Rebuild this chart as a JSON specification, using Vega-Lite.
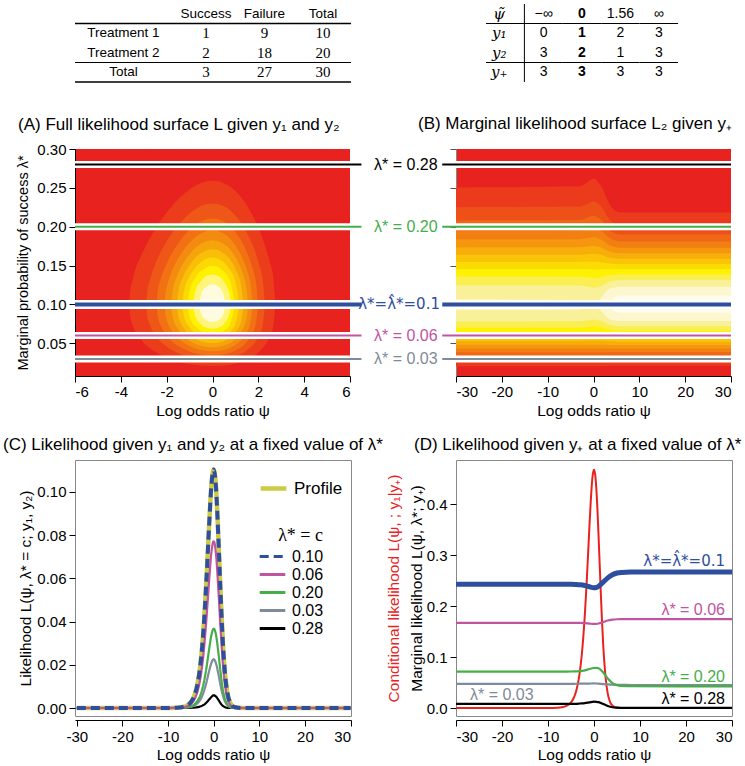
{
"$schema":"https://vega.github.io/schema/vega-lite/v6.json",
"padding":{"left":2,"top":3,"right":2,"bottom":2},
"bounds":"flush",
"columns":2,
"spacing":{"row":84,"column":105},
"config":{
 "font":"Liberation Sans",
 "view":{"stroke":null},
 "axis":{"labelFontSize":15,"titleFontSize":15.5,"titleFontWeight":"normal","labelColor":"#000","titleColor":"#000","tickColor":"#000","domainColor":"#000","grid":false,"tickSize":6,"labelPadding":3},
 "title":{"fontSize":17,"fontWeight":"normal","color":"#000"},
 "legend":{"labelFontSize":16,"labelColor":"#000"}
},
"resolve":{"scale":{"color":"independent","fill":"independent","stroke":"independent","strokeDash":"independent"},"legend":{"color":"independent","fill":"independent","stroke":"independent","strokeDash":"independent"}},
"datasets":{
"t1":[
{"row":"h","col":"lab","t":""},{"row":"h","col":"Success","t":"Success"},{"row":"h","col":"Failure","t":"Failure"},{"row":"h","col":"Total","t":"Total"},
{"row":"r1","col":"lab","t":"Treatment 1"},{"row":"r1","col":"Success","t":"1"},{"row":"r1","col":"Failure","t":"9"},{"row":"r1","col":"Total","t":"10"},
{"row":"r2","col":"lab","t":"Treatment 2"},{"row":"r2","col":"Success","t":"2"},{"row":"r2","col":"Failure","t":"18"},{"row":"r2","col":"Total","t":"20"},
{"row":"tot","col":"lab","t":"Total"},{"row":"tot","col":"Success","t":"3"},{"row":"tot","col":"Failure","t":"27"},{"row":"tot","col":"Total","t":"30"}
],
"t2":[
{"row":"h","col":"h","t":"ψ̃"},{"row":"h","col":"a","t":"−∞"},{"row":"h","col":"b","t":"0"},{"row":"h","col":"c","t":"1.56"},{"row":"h","col":"d","t":"∞"},
{"row":"r1","col":"h","t":"y₁"},{"row":"r1","col":"a","t":"0"},{"row":"r1","col":"b","t":"1"},{"row":"r1","col":"c","t":"2"},{"row":"r1","col":"d","t":"3"},
{"row":"r2","col":"h","t":"y₂"},{"row":"r2","col":"a","t":"3"},{"row":"r2","col":"b","t":"2"},{"row":"r2","col":"c","t":"1"},{"row":"r2","col":"d","t":"3"},
{"row":"r3","col":"h","t":"y₊"},{"row":"r3","col":"a","t":"3"},{"row":"r3","col":"b","t":"3"},{"row":"r3","col":"c","t":"3"},{"row":"r3","col":"d","t":"3"}
],
"lines":[
{"lam":0.28,"name":"0.28","label":"λ* = 0.28"},
{"lam":0.2,"name":"0.20","label":"λ* = 0.20"},
{"lam":0.06,"name":"0.06","label":"λ* = 0.06"},
{"lam":0.03,"name":"0.03","label":"λ* = 0.03"},
{"lam":0.1,"name":"0.10","label":"λ*=λ̂*=0.1"}
],
"aC":[
{"k":1,"psi":-3.64,"lo":0.1,"hi":0.1},{"k":1,"psi":-3.6,"lo":0.087,"hi":0.115},{"k":1,"psi":-3.5,"lo":0.075,"hi":0.1298},{"k":1,"psi":-3,"lo":0.0509,"hi":0.1698},{"k":1,"psi":-2.5,"lo":0.0393,"hi":0.1968},{"k":1,"psi":-2,"lo":0.0318,"hi":0.2182},{"k":1,"psi":-1.5,"lo":0.0268,"hi":0.2353},{"k":1,"psi":-1,"lo":0.0235,"hi":0.248},{"k":1,"psi":-0.5,"lo":0.0216,"hi":0.2564},{"k":1,"psi":0,"lo":0.021,"hi":0.2592},{"k":1,"psi":0.5,"lo":0.0216,"hi":0.2561},{"k":1,"psi":1,"lo":0.0242,"hi":0.2459},{"k":1,"psi":1.5,"lo":0.0291,"hi":0.2273},{"k":1,"psi":2,"lo":0.0385,"hi":0.1989},{"k":1,"psi":2.5,"lo":0.0591,"hi":0.1542},{"k":1,"psi":2.65,"lo":0.0719,"hi":0.1347},{"k":1,"psi":2.74,"lo":0.1,"hi":0.1},
{"k":2,"psi":-2.895,"lo":0.1,"hi":0.1},{"k":2,"psi":-2.85,"lo":0.0851,"hi":0.1162},{"k":2,"psi":-2.75,"lo":0.0748,"hi":0.1296},{"k":2,"psi":-2.5,"lo":0.0606,"hi":0.1517},{"k":2,"psi":-2,"lo":0.0458,"hi":0.1809},{"k":2,"psi":-1.5,"lo":0.0374,"hi":0.2018},{"k":2,"psi":-1,"lo":0.0322,"hi":0.217},{"k":2,"psi":-0.5,"lo":0.0293,"hi":0.2266},{"k":2,"psi":0,"lo":0.0283,"hi":0.2298},{"k":2,"psi":0.5,"lo":0.0294,"hi":0.2263},{"k":2,"psi":1,"lo":0.0331,"hi":0.2144},{"k":2,"psi":1.5,"lo":0.041,"hi":0.1924},{"k":2,"psi":2,"lo":0.0588,"hi":0.1548},{"k":2,"psi":2.2,"lo":0.0748,"hi":0.1296},{"k":2,"psi":2.289,"lo":0.1,"hi":0.1},
{"k":3,"psi":-2.437,"lo":0.1,"hi":0.1},{"k":3,"psi":-2.4,"lo":0.0867,"hi":0.1145},{"k":3,"psi":-2.25,"lo":0.0725,"hi":0.1337},{"k":3,"psi":-2,"lo":0.0599,"hi":0.1528},{"k":3,"psi":-1.5,"lo":0.0468,"hi":0.1786},{"k":3,"psi":-1,"lo":0.0395,"hi":0.1962},{"k":3,"psi":-0.5,"lo":0.0356,"hi":0.2069},{"k":3,"psi":0,"lo":0.0343,"hi":0.2106},{"k":3,"psi":0.5,"lo":0.0357,"hi":0.2066},{"k":3,"psi":1,"lo":0.0407,"hi":0.1931},{"k":3,"psi":1.5,"lo":0.0522,"hi":0.1672},{"k":3,"psi":1.75,"lo":0.0638,"hi":0.1463},{"k":3,"psi":1.9,"lo":0.076,"hi":0.1279},{"k":3,"psi":1.986,"lo":0.1,"hi":0.1},
{"k":4,"psi":-2.094,"lo":0.1,"hi":0.1},{"k":4,"psi":-2.05,"lo":0.0865,"hi":0.115},{"k":4,"psi":-2,"lo":0.0806,"hi":0.1217},{"k":4,"psi":-1.75,"lo":0.065,"hi":0.1443},{"k":4,"psi":-1.5,"lo":0.0565,"hi":0.159},{"k":4,"psi":-1,"lo":0.0464,"hi":0.1794},{"k":4,"psi":-0.5,"lo":0.0414,"hi":0.1914},{"k":4,"psi":0,"lo":0.0398,"hi":0.1955},{"k":4,"psi":0.5,"lo":0.0416,"hi":0.191},{"k":4,"psi":1,"lo":0.048,"hi":0.176},{"k":4,"psi":1.25,"lo":0.0543,"hi":0.1632},{"k":4,"psi":1.5,"lo":0.0648,"hi":0.1446},{"k":4,"psi":1.65,"lo":0.076,"hi":0.1279},{"k":4,"psi":1.748,"lo":0.1,"hi":0.1},
{"k":5,"psi":-1.807,"lo":0.1,"hi":0.1},{"k":5,"psi":-1.75,"lo":0.0854,"hi":0.116},{"k":5,"psi":-1.5,"lo":0.068,"hi":0.14},{"k":5,"psi":-1.25,"lo":0.0591,"hi":0.1542},{"k":5,"psi":-1,"lo":0.0535,"hi":0.1647},{"k":5,"psi":-0.5,"lo":0.047,"hi":0.1781},{"k":5,"psi":0,"lo":0.045,"hi":0.1827},{"k":5,"psi":0.5,"lo":0.0472,"hi":0.1777},{"k":5,"psi":1,"lo":0.0556,"hi":0.1607},{"k":5,"psi":1.25,"lo":0.0645,"hi":0.1453},{"k":5,"psi":1.5,"lo":0.0849,"hi":0.1167},{"k":5,"psi":1.545,"lo":0.1,"hi":0.1},
{"k":6,"psi":-1.553,"lo":0.1,"hi":0.1},{"k":6,"psi":-1.5,"lo":0.0865,"hi":0.1151},{"k":6,"psi":-1.25,"lo":0.0693,"hi":0.1377},{"k":6,"psi":-1,"lo":0.0611,"hi":0.1507},{"k":6,"psi":-0.5,"lo":0.0528,"hi":0.1661},{"k":6,"psi":0,"lo":0.0503,"hi":0.1711},{"k":6,"psi":0.5,"lo":0.0531,"hi":0.1656},{"k":6,"psi":1,"lo":0.0642,"hi":0.1458},{"k":6,"psi":1.25,"lo":0.0784,"hi":0.1245},{"k":6,"psi":1.356,"lo":0.1,"hi":0.1},
{"k":7,"psi":-1.319,"lo":0.1,"hi":0.1},{"k":7,"psi":-1.25,"lo":0.085,"hi":0.1164},{"k":7,"psi":-1,"lo":0.0704,"hi":0.136},{"k":7,"psi":-0.75,"lo":0.063,"hi":0.1474},{"k":7,"psi":-0.5,"lo":0.0589,"hi":0.1546},{"k":7,"psi":0,"lo":0.0558,"hi":0.1603},{"k":7,"psi":0.5,"lo":0.0592,"hi":0.1541},{"k":7,"psi":0.75,"lo":0.0645,"hi":0.1452},{"k":7,"psi":1,"lo":0.0748,"hi":0.1296},{"k":7,"psi":1.171,"lo":0.1,"hi":0.1},
{"k":8,"psi":-1.09,"lo":0.1,"hi":0.1},{"k":8,"psi":-1,"lo":0.0841,"hi":0.1176},{"k":8,"psi":-0.75,"lo":0.0719,"hi":0.1348},{"k":8,"psi":-0.5,"lo":0.0658,"hi":0.143},{"k":8,"psi":-0.25,"lo":0.0628,"hi":0.148},{"k":8,"psi":0,"lo":0.0618,"hi":0.1497},{"k":8,"psi":0.25,"lo":0.0628,"hi":0.1479},{"k":8,"psi":0.5,"lo":0.0662,"hi":0.1424},{"k":8,"psi":0.75,"lo":0.0738,"hi":0.1312},{"k":8,"psi":0.987,"lo":0.1,"hi":0.1},
{"k":9,"psi":-0.852,"lo":0.1,"hi":0.1},{"k":9,"psi":-0.75,"lo":0.0846,"hi":0.1171},{"k":9,"psi":-0.5,"lo":0.0744,"hi":0.1301},{"k":9,"psi":-0.25,"lo":0.07,"hi":0.1368},{"k":9,"psi":0,"lo":0.0687,"hi":0.1387},{"k":9,"psi":0.25,"lo":0.0701,"hi":0.1367},{"k":9,"psi":0.5,"lo":0.0749,"hi":0.1295},{"k":9,"psi":0.75,"lo":0.0893,"hi":0.1115},{"k":9,"psi":0.789,"lo":0.1,"hi":0.1},
{"k":10,"psi":-0.579,"lo":0.1,"hi":0.1},{"k":10,"psi":-0.5,"lo":0.0881,"hi":0.113},{"k":10,"psi":-0.25,"lo":0.0795,"hi":0.1231},{"k":10,"psi":0,"lo":0.0774,"hi":0.1259},{"k":10,"psi":0.25,"lo":0.0796,"hi":0.123},{"k":10,"psi":0.5,"lo":0.0895,"hi":0.1113},{"k":10,"psi":0.549,"lo":0.1,"hi":0.1}
],
"bC":[
{"m":1,"seg":"s1","psi":-30,"lo":0.0206,"hi":0.2506},{"m":1,"seg":"s1","psi":-3,"lo":0.0206,"hi":0.252},{"m":1,"seg":"s1","psi":-1.5,"lo":0.0205,"hi":0.2567},{"m":1,"seg":"s1","psi":0,"lo":0.0205,"hi":0.2621},{"m":1,"seg":"s1","psi":1,"lo":0.0206,"hi":0.2577},{"m":1,"seg":"s1","psi":2,"lo":0.0207,"hi":0.2489},{"m":1,"seg":"s1","psi":3,"lo":0.021,"hi":0.2349},{"m":1,"seg":"s1","psi":4,"lo":0.0212,"hi":0.2248},{"m":1,"seg":"s1","psi":6,"lo":0.0213,"hi":0.2182},{"m":1,"seg":"s1","psi":30,"lo":0.0213,"hi":0.2182},
{"m":2,"seg":"s2","psi":-30,"lo":0.0277,"hi":0.2252},{"m":2,"seg":"s2","psi":-3,"lo":0.0277,"hi":0.2261},{"m":2,"seg":"s2","psi":-1.5,"lo":0.0276,"hi":0.2293},{"m":2,"seg":"s2","psi":0,"lo":0.0275,"hi":0.2329},{"m":2,"seg":"s2","psi":1,"lo":0.0276,"hi":0.2298},{"m":2,"seg":"s2","psi":2,"lo":0.0278,"hi":0.2236},{"m":2,"seg":"s2","psi":3,"lo":0.028,"hi":0.2136},{"m":2,"seg":"s2","psi":4,"lo":0.0283,"hi":0.2065},{"m":2,"seg":"s2","psi":6,"lo":0.0284,"hi":0.2018},{"m":2,"seg":"s2","psi":30,"lo":0.0284,"hi":0.2018},
{"m":3,"seg":"s3","psi":-30,"lo":0.0334,"hi":0.2081},{"m":3,"seg":"s3","psi":-3,"lo":0.0334,"hi":0.2088},{"m":3,"seg":"s3","psi":-1.5,"lo":0.0333,"hi":0.2112},{"m":3,"seg":"s3","psi":0,"lo":0.0332,"hi":0.214},{"m":3,"seg":"s3","psi":1,"lo":0.0333,"hi":0.2116},{"m":3,"seg":"s3","psi":2,"lo":0.0334,"hi":0.2068},{"m":3,"seg":"s3","psi":3,"lo":0.0337,"hi":0.1991},{"m":3,"seg":"s3","psi":4,"lo":0.0339,"hi":0.1936},{"m":3,"seg":"s3","psi":6,"lo":0.034,"hi":0.19},{"m":3,"seg":"s3","psi":30,"lo":0.034,"hi":0.19},
{"m":4,"seg":"s4","psi":-30,"lo":0.0385,"hi":0.1949},{"m":4,"seg":"s4","psi":-3,"lo":0.0385,"hi":0.1954},{"m":4,"seg":"s4","psi":-1.5,"lo":0.0385,"hi":0.1971},{"m":4,"seg":"s4","psi":0,"lo":0.0384,"hi":0.199},{"m":4,"seg":"s4","psi":1,"lo":0.0385,"hi":0.1972},{"m":4,"seg":"s4","psi":2,"lo":0.0386,"hi":0.1936},{"m":4,"seg":"s4","psi":3,"lo":0.0387,"hi":0.1879},{"m":4,"seg":"s4","psi":4,"lo":0.0388,"hi":0.1838},{"m":4,"seg":"s4","psi":6,"lo":0.0389,"hi":0.1811},{"m":4,"seg":"s4","psi":30,"lo":0.0389,"hi":0.1811},
{"m":5,"seg":"s5","psi":-30,"lo":0.0433,"hi":0.1835},{"m":5,"seg":"s5","psi":-3,"lo":0.0433,"hi":0.1839},{"m":5,"seg":"s5","psi":-1.5,"lo":0.0434,"hi":0.1851},{"m":5,"seg":"s5","psi":0,"lo":0.0434,"hi":0.1866},{"m":5,"seg":"s5","psi":1,"lo":0.0434,"hi":0.1853},{"m":5,"seg":"s5","psi":2,"lo":0.0434,"hi":0.1826},{"m":5,"seg":"s5","psi":3,"lo":0.0435,"hi":0.1782},{"m":5,"seg":"s5","psi":4,"lo":0.0435,"hi":0.1751},{"m":5,"seg":"s5","psi":6,"lo":0.0435,"hi":0.1731},{"m":5,"seg":"s5","psi":30,"lo":0.0435,"hi":0.1731},
{"m":6,"seg":"s6","psi":-30,"lo":0.0481,"hi":0.1734},{"m":6,"seg":"s6","psi":-3,"lo":0.0481,"hi":0.1737},{"m":6,"seg":"s6","psi":-1.5,"lo":0.0482,"hi":0.1745},{"m":6,"seg":"s6","psi":0,"lo":0.0483,"hi":0.1755},{"m":6,"seg":"s6","psi":1,"lo":0.0483,"hi":0.1745},{"m":6,"seg":"s6","psi":2,"lo":0.0482,"hi":0.1726},{"m":6,"seg":"s6","psi":3,"lo":0.048,"hi":0.1695},{"m":6,"seg":"s6","psi":4,"lo":0.048,"hi":0.1673},{"m":6,"seg":"s6","psi":6,"lo":0.0479,"hi":0.1658},{"m":6,"seg":"s6","psi":30,"lo":0.0479,"hi":0.1658},
{"m":7,"seg":"s7","psi":-30,"lo":0.053,"hi":0.1639},{"m":7,"seg":"s7","psi":-3,"lo":0.053,"hi":0.164},{"m":7,"seg":"s7","psi":-1.5,"lo":0.0532,"hi":0.1645},{"m":7,"seg":"s7","psi":0,"lo":0.0533,"hi":0.1651},{"m":7,"seg":"s7","psi":1,"lo":0.0532,"hi":0.1645},{"m":7,"seg":"s7","psi":2,"lo":0.053,"hi":0.1632},{"m":7,"seg":"s7","psi":3,"lo":0.0526,"hi":0.1612},{"m":7,"seg":"s7","psi":4,"lo":0.0524,"hi":0.1597},{"m":7,"seg":"s7","psi":6,"lo":0.0522,"hi":0.1588},{"m":7,"seg":"s7","psi":30,"lo":0.0522,"hi":0.1588},
{"m":8,"seg":"s8","psi":-30,"lo":0.0581,"hi":0.1547},{"m":8,"seg":"s8","psi":-3,"lo":0.0582,"hi":0.1547},{"m":8,"seg":"s8","psi":-1.5,"lo":0.0584,"hi":0.1549},{"m":8,"seg":"s8","psi":0,"lo":0.0586,"hi":0.1551},{"m":8,"seg":"s8","psi":1,"lo":0.0584,"hi":0.1548},{"m":8,"seg":"s8","psi":2,"lo":0.058,"hi":0.1542},{"m":8,"seg":"s8","psi":3,"lo":0.0574,"hi":0.1532},{"m":8,"seg":"s8","psi":4,"lo":0.057,"hi":0.1525},{"m":8,"seg":"s8","psi":6,"lo":0.0567,"hi":0.1521},{"m":8,"seg":"s8","psi":30,"lo":0.0567,"hi":0.1521},
{"m":9,"seg":"s9","psi":-30,"lo":0.0636,"hi":0.1456},{"m":9,"seg":"s9","psi":-3,"lo":0.0637,"hi":0.1455},{"m":9,"seg":"s9","psi":-1.5,"lo":0.0641,"hi":0.1453},{"m":9,"seg":"s9","psi":0,"lo":0.0645,"hi":0.1451},{"m":9,"seg":"s9","psi":1,"lo":0.0642,"hi":0.1451},{"m":9,"seg":"s9","psi":2,"lo":0.0635,"hi":0.1452},{"m":9,"seg":"s9","psi":3,"lo":0.0625,"hi":0.1453},{"m":9,"seg":"s9","psi":4,"lo":0.0618,"hi":0.1454},{"m":9,"seg":"s9","psi":6,"lo":0.0613,"hi":0.1455},{"m":9,"seg":"s9","psi":30,"lo":0.0613,"hi":0.1455},
{"m":10,"seg":"s10","psi":-30,"lo":0.07,"hi":0.1359},{"m":10,"seg":"s10","psi":-3,"lo":0.0702,"hi":0.1357},{"m":10,"seg":"s10","psi":-1.5,"lo":0.0708,"hi":0.1351},{"m":10,"seg":"s10","psi":0,"lo":0.0716,"hi":0.1344},{"m":10,"seg":"s10","psi":1,"lo":0.0711,"hi":0.1348},{"m":10,"seg":"s10","psi":2,"lo":0.07,"hi":0.1357},{"m":10,"seg":"s10","psi":3,"lo":0.0683,"hi":0.137},{"m":10,"seg":"s10","psi":4,"lo":0.0671,"hi":0.138},{"m":10,"seg":"s10","psi":6,"lo":0.0663,"hi":0.1386},{"m":10,"seg":"s10","psi":30,"lo":0.0663,"hi":0.1386},
{"m":11,"seg":"s11","psi":-30,"lo":0.0781,"hi":0.1248},{"m":11,"seg":"s11","psi":-3,"lo":0.0784,"hi":0.1244},{"m":11,"seg":"s11","psi":-1.5,"lo":0.0795,"hi":0.1233},{"m":11,"seg":"s11","psi":0,"lo":0.0807,"hi":0.1216},{"m":11,"seg":"s11","psi":1,"lo":0.0798,"hi":0.1226},{"m":11,"seg":"s11","psi":2,"lo":0.0781,"hi":0.1246},{"m":11,"seg":"s11","psi":3,"lo":0.0753,"hi":0.1282},{"m":11,"seg":"s11","psi":4,"lo":0.0733,"hi":0.1302},{"m":11,"seg":"s11","psi":6,"lo":0.072,"hi":0.1314},{"m":11,"seg":"s11","psi":30,"lo":0.072,"hi":0.1314},
{"m":12,"seg":"s12a","psi":-30,"lo":0.0926,"hi":0.1068},{"m":12,"seg":"s12a","psi":-3,"lo":0.0937,"hi":0.1058},{"m":12,"seg":"s12a","psi":-2,"lo":0.0975,"hi":0.1025},{"m":12,"seg":"s12a","psi":-1.8,"lo":0.1,"hi":0.1},
{"m":12,"seg":"s12b","psi":1.15,"lo":0.1,"hi":0.1},{"m":12,"seg":"s12b","psi":1.5,"lo":0.0932,"hi":0.107},{"m":12,"seg":"s12b","psi":2,"lo":0.0894,"hi":0.1113},{"m":12,"seg":"s12b","psi":3,"lo":0.0833,"hi":0.1183},{"m":12,"seg":"s12b","psi":4,"lo":0.0798,"hi":0.1212},{"m":12,"seg":"s12b","psi":6,"lo":0.0789,"hi":0.1228},{"m":12,"seg":"s12b","psi":30,"lo":0.0789,"hi":0.1228},
{"m":13,"seg":"s13","psi":3.6,"lo":0.1,"hi":0.1},{"m":13,"seg":"s13","psi":4,"lo":0.0938,"hi":0.1059},{"m":13,"seg":"s13","psi":5,"lo":0.0902,"hi":0.11},{"m":13,"seg":"s13","psi":6,"lo":0.0894,"hi":0.1114},{"m":13,"seg":"s13","psi":30,"lo":0.0894,"hi":0.1114}
],
"cL":[
{"psi":-30,"prof":0,"L10":0,"L06":0,"L20":0,"L03":0,"L28":0},
{"psi":-10,"prof":0.00002,"L10":0.00002,"L06":0.00001,"L20":0.000005,"L03":0.000004,"L28":0},
{"psi":-8,"prof":0.00014,"L10":0.00014,"L06":0.00009,"L20":0.00004,"L03":0.00003,"L28":0},
{"psi":-7,"prof":0.00037,"L10":0.00037,"L06":0.00025,"L20":0.00011,"L03":0.00007,"L28":0.00001},
{"psi":-6,"prof":0.001,"L10":0.001,"L06":0.00069,"L20":0.00029,"L03":0.0002,"L28":0.00003},
{"psi":-5,"prof":0.0027,"L10":0.0027,"L06":0.0019,"L20":0.0008,"L03":0.0005,"L28":0.00009},
{"psi":-4.5,"prof":0.0044,"L10":0.0044,"L06":0.003,"L20":0.0013,"L03":0.0009,"L28":0.00015},
{"psi":-4,"prof":0.0072,"L10":0.0072,"L06":0.005,"L20":0.0021,"L03":0.0014,"L28":0.00024},
{"psi":-3.5,"prof":0.0116,"L10":0.0116,"L06":0.008,"L20":0.0035,"L03":0.0023,"L28":0.0004},
{"psi":-3,"prof":0.0185,"L10":0.0185,"L06":0.0128,"L20":0.0055,"L03":0.0036,"L28":0.0007},
{"psi":-2.5,"prof":0.0289,"L10":0.0289,"L06":0.02,"L20":0.0088,"L03":0.0057,"L28":0.0011},
{"psi":-2,"prof":0.0438,"L10":0.0438,"L06":0.0304,"L20":0.0135,"L03":0.0087,"L28":0.0017},
{"psi":-1.5,"prof":0.0629,"L10":0.0629,"L06":0.0438,"L20":0.0198,"L03":0.0126,"L28":0.0027},
{"psi":-1,"prof":0.0846,"L10":0.0846,"L06":0.059,"L20":0.0272,"L03":0.0171,"L28":0.0039},
{"psi":-0.5,"prof":0.1031,"L10":0.1031,"L06":0.072,"L20":0.0338,"L03":0.0209,"L28":0.0051},
{"psi":0,"prof":0.1104,"L10":0.1104,"L06":0.0772,"L20":0.0367,"L03":0.0226,"L28":0.0059},
{"psi":0.5,"prof":0.1024,"L10":0.1024,"L06":0.0714,"L20":0.034,"L03":0.0207,"L28":0.0053},
{"psi":1,"prof":0.0803,"L10":0.0803,"L06":0.0558,"L20":0.0262,"L03":0.0161,"L28":0.0039},
{"psi":1.5,"prof":0.0537,"L10":0.0537,"L06":0.037,"L20":0.0166,"L03":0.0105,"L28":0.0022},
{"psi":2,"prof":0.0308,"L10":0.0308,"L06":0.021,"L20":0.0087,"L03":0.0059,"L28":0.001},
{"psi":2.5,"prof":0.0155,"L10":0.0155,"L06":0.0105,"L20":0.004,"L03":0.0029,"L28":0.0004},
{"psi":3,"prof":0.0071,"L10":0.0071,"L06":0.0048,"L20":0.0016,"L03":0.0013,"L28":0.0001},
{"psi":3.5,"prof":0.003,"L10":0.003,"L06":0.002,"L20":0.0006,"L03":0.0005,"L28":0.00003},
{"psi":4,"prof":0.0012,"L10":0.0012,"L06":0.0008,"L20":0.0002,"L03":0.0002,"L28":0.00001},
{"psi":4.5,"prof":0.0005,"L10":0.0005,"L06":0.0003,"L20":0.0001,"L03":0.0001,"L28":0},
{"psi":5,"prof":0.0002,"L10":0.0002,"L06":0.0001,"L20":0.00003,"L03":0,"L28":0},
{"psi":6,"prof":0.00002,"L10":0.00002,"L06":0.00002,"L20":0,"L03":0,"L28":0},
{"psi":8,"prof":0,"L10":0,"L06":0,"L20":0,"L03":0,"L28":0},
{"psi":10,"prof":0,"L10":0,"L06":0,"L20":0,"L03":0,"L28":0},
{"psi":30,"prof":0,"L10":0,"L06":0,"L20":0,"L03":0,"L28":0}
],
"dC":[
{"psi":-30,"c":0},{"psi":-10,"c":0.0001},{"psi":-8,"c":0.0006},{"psi":-7,"c":0.0015},{"psi":-6,"c":0.0041},{"psi":-5.5,"c":0.0068},{"psi":-5,"c":0.0111},{"psi":-4.5,"c":0.0182},{"psi":-4,"c":0.0296},{"psi":-3.5,"c":0.0479},{"psi":-3,"c":0.0765},{"psi":-2.5,"c":0.1198},{"psi":-2,"c":0.182},{"psi":-1.75,"c":0.2204},{"psi":-1.5,"c":0.263},{"psi":-1.25,"c":0.3091},{"psi":-1,"c":0.3554},{"psi":-0.75,"c":0.3987},{"psi":-0.5,"c":0.4349},{"psi":-0.25,"c":0.4592},{"psi":0,"c":0.468},{"psi":0.25,"c":0.4588},{"psi":0.5,"c":0.4317},{"psi":0.75,"c":0.3892},{"psi":1,"c":0.336},{"psi":1.25,"c":0.2782},{"psi":1.5,"c":0.221},{"psi":1.75,"c":0.1689},{"psi":2,"c":0.1245},{"psi":2.5,"c":0.0618},{"psi":3,"c":0.0278},{"psi":3.5,"c":0.0116},{"psi":4,"c":0.0047},{"psi":4.5,"c":0.0018},{"psi":5,"c":0.0007},{"psi":6,"c":0.0001},{"psi":8,"c":0},{"psi":30,"c":0}
],
"dL":[
{"psi":-30,"M10":0.2428,"M06":0.1673,"M20":0.0716,"M03":0.0475,"M28":0.008},
{"psi":-6,"M10":0.2428,"M06":0.1673,"M20":0.0716,"M03":0.0475,"M28":0.008},
{"psi":-5,"M10":0.2428,"M06":0.1673,"M20":0.0717,"M03":0.0475,"M28":0.0081},
{"psi":-4,"M10":0.2426,"M06":0.1672,"M20":0.072,"M03":0.0476,"M28":0.0082},
{"psi":-3,"M10":0.242,"M06":0.167,"M20":0.0725,"M03":0.0477,"M28":0.0088},
{"psi":-2,"M10":0.2405,"M06":0.1666,"M20":0.074,"M03":0.0478,"M28":0.0095},
{"psi":-1,"M10":0.238,"M06":0.1658,"M20":0.0765,"M03":0.048,"M28":0.011},
{"psi":0,"M10":0.2362,"M06":0.165,"M20":0.0785,"M03":0.0482,"M28":0.0125},
{"psi":0.5,"M10":0.2366,"M06":0.1652,"M20":0.0788,"M03":0.0481,"M28":0.0122},
{"psi":1,"M10":0.239,"M06":0.166,"M20":0.078,"M03":0.0478,"M28":0.0115},
{"psi":2,"M10":0.2471,"M06":0.1688,"M20":0.0696,"M03":0.047,"M28":0.008},
{"psi":3,"M10":0.2555,"M06":0.1718,"M20":0.058,"M03":0.0463,"M28":0.004},
{"psi":4,"M10":0.2615,"M06":0.1735,"M20":0.049,"M03":0.0458,"M28":0.0015},
{"psi":5,"M10":0.265,"M06":0.1742,"M20":0.045,"M03":0.0455,"M28":0.0006},
{"psi":6,"M10":0.2662,"M06":0.1744,"M20":0.0435,"M03":0.0453,"M28":0.0003},
{"psi":8,"M10":0.2668,"M06":0.1745,"M20":0.0427,"M03":0.0452,"M28":0.0002},
{"psi":30,"M10":0.2668,"M06":0.1745,"M20":0.0425,"M03":0.0452,"M28":0.0002}
],
"dLab":[
{"key":"M10","psi":30,"v":0.2668,"label":"λ*=λ̂*=0.1"},
{"key":"M06","psi":30,"v":0.1745,"label":"λ* = 0.06"},
{"key":"M20","psi":30,"v":0.0425,"label":"λ* = 0.20"},
{"key":"M28","psi":30,"v":0.0002,"label":"λ* = 0.28"},
{"key":"M03","psi":-30,"v":0.0475,"label":"λ* = 0.03"}
]
},
"concat":[
  {
   "width":276,"height":61,
   "data":{"name":"t1"},
   "layer":[
    {"transform":[{"filter":"datum.col === 'lab'"}],"mark":{"type":"text","fontSize":13.5,"dx":-24},
     "encoding":{"x":{"field":"col","type":"nominal","scale":{"type":"point","domain":["lab","Success","Failure","Total"],"padding":0.859,"align":0.721},"axis":null},
      "y":{"field":"row","type":"nominal","scale":{"type":"band","domain":["h","r1","r2","tot"],"paddingInner":0,"paddingOuter":0,"range":[0,78]},"axis":null},"text":{"field":"t"}}},
    {"transform":[{"filter":"datum.row === 'h' && datum.col !== 'lab'"}],"mark":{"type":"text","fontSize":13.5},
     "encoding":{"x":{"field":"col","type":"nominal","axis":null},"y":{"field":"row","type":"nominal","axis":null},"text":{"field":"t"}}},
    {"transform":[{"filter":"datum.row !== 'h' && datum.col !== 'lab'"}],"mark":{"type":"text","fontSize":15,"font":"Liberation Serif"},
     "encoding":{"x":{"field":"col","type":"nominal","axis":null},"y":{"field":"row","type":"nominal","axis":null},"text":{"field":"t"}}},
    {"transform":[{"filter":"datum.col === 'lab' && datum.row === 'h'"}],"mark":{"type":"rule","color":"#000","strokeWidth":1.3},
     "encoding":{"y":{"field":"row","type":"nominal","bandPosition":1,"axis":null}}},
    {"transform":[{"filter":"datum.col === 'lab' && datum.row === 'tot'"}],"mark":{"type":"rule","color":"#000","strokeWidth":1},
     "encoding":{"y":{"field":"row","type":"nominal","bandPosition":0,"axis":null}}},
    {"transform":[{"filter":"datum.col === 'lab' && datum.row === 'tot'"}],"mark":{"type":"rule","color":"#000","strokeWidth":1.3},
     "encoding":{"y":{"field":"row","type":"nominal","bandPosition":1,"axis":null}}}
   ]
  },
  {
   "width":222,"height":61,
   "data":{"name":"t2"},
   "layer":[
    {"transform":[{"filter":"datum.col === 'h'"}],"mark":{"type":"text","fontSize":15,"font":"DejaVu Serif","fontStyle":"italic","dx":-6},
     "encoding":{"x":{"field":"col","type":"nominal","scale":{"type":"band","domain":["h","a","b","c","d"],"paddingInner":0,"paddingOuter":0,"range":[30,222]},"axis":null},
      "y":{"field":"row","type":"nominal","scale":{"type":"band","domain":["h","r1","r2","r3"],"paddingInner":0,"paddingOuter":0,"range":[0,78]},"axis":null},"text":{"field":"t"}}},
    {"transform":[{"filter":"datum.col === 'b'"}],"mark":{"type":"text","fontSize":14,"fontWeight":"bold"},
     "encoding":{"x":{"field":"col","type":"nominal","axis":null},"y":{"field":"row","type":"nominal","axis":null},"text":{"field":"t"}}},
    {"transform":[{"filter":"datum.col !== 'b' && datum.col !== 'h'"}],"mark":{"type":"text","fontSize":14},
     "encoding":{"x":{"field":"col","type":"nominal","axis":null},"y":{"field":"row","type":"nominal","axis":null},"text":{"field":"t"}}},
    {"transform":[{"filter":"datum.row === 'h'"}],"mark":{"type":"rule","color":"#000","strokeWidth":1.2},
     "encoding":{"x":{"field":"col","type":"nominal","bandPosition":0,"axis":null},"x2":{"field":"col","bandPosition":1},"y":{"field":"row","type":"nominal","bandPosition":1,"axis":null}}},
    {"transform":[{"filter":"datum.row === 'r3'"}],"mark":{"type":"rule","color":"#000","strokeWidth":1},
     "encoding":{"x":{"field":"col","type":"nominal","bandPosition":0,"axis":null},"x2":{"field":"col","bandPosition":1},"y":{"field":"row","type":"nominal","bandPosition":0,"axis":null}}},
    {"transform":[{"filter":"datum.col === 'h'"}],"mark":{"type":"rule","color":"#000","strokeWidth":1},
     "encoding":{"x":{"field":"col","type":"nominal","bandPosition":1,"axis":null},"y":{"field":"row","type":"nominal","bandPosition":0,"axis":null},"y2":{"field":"row","bandPosition":1}}}
   ]
  },
    {
     "width":275,"height":227,
     "view":{"fill":"#E8221F","stroke":null},
     "title":{"text":"(A) Full likelihood surface L given y₁ and y₂","anchor":"start","frame":"group","dx":-57,"offset":8},
     "layer":[
      {"data":{"name":"aC"},"mark":{"type":"area","interpolate":"monotone"},
       "encoding":{
        "x":{"field":"psi","type":"quantitative","scale":{"domain":[-6,6],"nice":false,"zero":false},"axis":{"values":[-6,-4,-2,0,2,4,6],"labelExpr":"datum.value","title":"Log odds ratio ψ","titlePadding":4,"labelPadding":2}},
        "y":{"field":"lo","type":"quantitative","stack":null,"scale":{"domain":[0.008,0.3],"nice":false,"zero":false},"axis":{"values":[0.05,0.1,0.15,0.2,0.25,0.3],"format":".2f","title":"Marginal probability of success λ*","titleFontSize":14.5,"titlePadding":6}},
        "y2":{"field":"hi"},
        "fill":{"field":"k","type":"ordinal","scale":{"domain":[1,2,3,4,5,6,7,8,9,10],"range":["#EB3D1B","#EE5717","#F17113","#F38B10","#F6A40C","#F9BE08","#FCD804","#FFF200","#FFF57A","#FFFBDF"]},"legend":null},
        "detail":{"field":"k","type":"ordinal"}
       }},
      {"data":{"name":"lines"},"mark":{"type":"rule","color":"#ffffff"},
       "encoding":{"x":{"datum":-6},"x2":{"datum":6.5},"y":{"field":"lam","type":"quantitative"},
        "strokeWidth":{"condition":{"test":"datum.name === '0.10'","value":9},"value":7}}},
      {"data":{"name":"lines"},"mark":{"type":"rule"},
       "encoding":{"x":{"datum":-6},"x2":{"datum":6.5},"y":{"field":"lam","type":"quantitative"},
        "stroke":{"field":"name","type":"nominal","scale":{"domain":["0.10","0.06","0.20","0.03","0.28"],"range":["#2E4E9E","#C1549F","#45AE49","#7F8B99","#000000"]},"legend":null},
        "strokeWidth":{"condition":{"test":"datum.name === '0.10'","value":4},"value":2}}}
     ]
    },
    {
     "width":275,"height":227,
     "view":{"fill":"#E8221F","stroke":null},
     "title":{"text":"(B) Marginal likelihood surface L₂ given y₊","anchor":"end","frame":"group","dx":1,"offset":16},
     "layer":[
      {"data":{"name":"bC"},"mark":{"type":"area","interpolate":"monotone"},
       "encoding":{
        "x":{"field":"psi","type":"quantitative","scale":{"domain":[-30,30],"nice":false,"zero":false},"axis":{"values":[-30,-20,-10,0,10,20,30],"labelExpr":"datum.value","title":"Log odds ratio ψ","titlePadding":4,"labelPadding":2}},
        "y":{"field":"lo","type":"quantitative","stack":null,"scale":{"domain":[0.008,0.3],"nice":false,"zero":false},"axis":{"values":[0.05,0.1,0.15,0.2,0.25,0.3],"labels":false,"title":null,"domainColor":"#888","tickColor":"#555"}},
        "y2":{"field":"hi"},
        "fill":{"field":"m","type":"ordinal","scale":{"domain":[1,2,3,4,5,6,7,8,9,10,11,12,13],"range":["#EB3A1C","#ED5118","#F06815","#F27F11","#F5960E","#F7AD0A","#FAC407","#FCDB03","#FFF200","#FAEE50","#F9F09A","#FCF7CF","#FFFCEB"]},"legend":null},
        "detail":{"field":"seg","type":"nominal"}
       }},
      {"data":{"name":"lines"},"mark":{"type":"rule","color":"#ffffff"},
       "encoding":{"x":{"datum":-30},"x2":{"datum":30},"y":{"field":"lam","type":"quantitative"},
        "strokeWidth":{"condition":{"test":"datum.name === '0.10'","value":9},"value":7}}},
      {"data":{"name":"lines"},"mark":{"type":"rule"},
       "encoding":{"x":{"datum":-33},"x2":{"datum":30},"y":{"field":"lam","type":"quantitative"},
        "stroke":{"field":"name","type":"nominal","scale":{"domain":["0.10","0.06","0.20","0.03","0.28"],"range":["#2E4E9E","#C1549F","#45AE49","#7F8B99","#000000"]},"legend":null},
        "strokeWidth":{"condition":{"test":"datum.name === '0.10'","value":4},"value":2}}},
      {"data":{"name":"lines"},"transform":[{"filter":"datum.name !== '0.10'"}],"mark":{"type":"text","align":"right","baseline":"middle","fontSize":16},
       "encoding":{"x":{"datum":-34},"y":{"field":"lam","type":"quantitative"},"text":{"field":"label"},
        "color":{"field":"name","type":"nominal","scale":{"domain":["0.10","0.06","0.20","0.03","0.28"],"range":["#2E4E9E","#C1549F","#45AE49","#7F8B99","#000000"]},"legend":null}}},
      {"data":{"name":"lines"},"transform":[{"filter":"datum.name === '0.10'"}],"mark":{"type":"text","align":"right","baseline":"middle","fontSize":15,"font":"DejaVu Sans","letterSpacing":-0.5},
       "encoding":{"x":{"datum":-33.5},"y":{"field":"lam","type":"quantitative"},"text":{"field":"label"},
        "color":{"field":"name","type":"nominal","legend":null}}}
     ]
    },
    {
     "width":276,"height":256,
     "view":{"stroke":"#888"},
     "title":{"text":"(C) Likelihood given y₁ and y₂ at a fixed value of λ*","anchor":"start","frame":"group","dx":-72,"offset":6},
     "data":{"name":"cL"},
     "layer":[
      {"mark":{"type":"line","interpolate":"monotone","strokeWidth":4.5},
       "encoding":{
        "x":{"field":"psi","type":"quantitative","scale":{"domain":[-30.4,30.1],"nice":false,"zero":false},"axis":{"values":[-30,-20,-10,0,10,20,30],"labelExpr":"datum.value","title":"Log odds ratio ψ","offset":4,"titlePadding":3}},
        "y":{"field":"prof","type":"quantitative","scale":{"domain":[-0.0037,0.1148],"nice":false,"zero":false},"axis":{"values":[0,0.02,0.04,0.06,0.08,0.1],"format":".2f","title":"Likelihood L(ψ, λ* = c; y₁, y₂)","domain":false,"titlePadding":3}},
        "color":{"datum":"Profile","scale":{"domain":["Profile"],"range":["#CDCB45"]},"legend":{"title":null,"orient":"none","legendX":188,"legendY":18,"symbolType":"M-1.6,0L1.6,0","symbolSize":256,"symbolStrokeWidth":4.5,"labelOffset":10,"labelFontSize":17}}
       }},
      {"transform":[{"fold":["L28","L03","L20","L06","L10"],"as":["key","L"]}],
       "mark":{"type":"line","interpolate":"monotone"},
       "encoding":{
        "x":{"field":"psi","type":"quantitative"},
        "y":{"field":"L","type":"quantitative","axis":{"values":[0,0.02,0.04,0.06,0.08,0.1],"format":".2f","title":"Likelihood L(ψ, λ* = c; y₁, y₂)","domain":false,"titlePadding":3}},
        "color":{"field":"key","type":"nominal","scale":{"domain":["L10","L06","L20","L03","L28"],"range":["#2E4E9E","#C1549F","#45AE49","#7F8B99","#000000"]},
         "legend":{"title":"λ* = c","orient":"none","legendX":188,"legendY":67,"labelExpr":"'0.' + slice(datum.label, 1)","symbolType":"M-1.6,0L1.6,0","symbolSize":256,"symbolStrokeWidth":3,"labelOffset":10,"titleFont":"Liberation Serif","titleFontSize":18,"titleFontWeight":"normal","titleAnchor":"end","titlePadding":2,"rowPadding":-2,"labelFontSize":16}},
        "strokeDash":{"field":"key","type":"nominal","scale":{"domain":["L10","L06","L20","L03","L28"],"range":[[9,5],[1,0],[1,0],[1,0],[1,0]]},
         "legend":{"title":"λ* = c","orient":"none","legendX":188,"legendY":67,"labelExpr":"'0.' + slice(datum.label, 1)","symbolType":"M-1.6,0L1.6,0","symbolSize":256,"symbolStrokeWidth":3,"labelOffset":10,"titleFont":"Liberation Serif","titleFontSize":18,"titleFontWeight":"normal","titleAnchor":"end","titlePadding":2,"rowPadding":-2,"labelFontSize":16}},
        "strokeWidth":{"condition":{"test":"datum.key === 'L10'","value":4},"value":2.2}
       }}
     ],
     "resolve":{"scale":{"color":"independent","strokeDash":"independent"},"legend":{"color":"independent","strokeDash":"independent"}}
    },
    {
     "width":276,"height":256,
     "view":{"stroke":"#888"},
     "title":{"text":"(D) Likelihood given y₊ at a fixed value of λ*","anchor":"start","frame":"group","dx":-42,"offset":6},
     "layer":[
      {"data":{"name":"dC"},"mark":{"type":"line","interpolate":"monotone","color":"#E8231F","strokeWidth":2},
       "encoding":{
        "x":{"field":"psi","type":"quantitative","scale":{"domain":[-30,30],"nice":false,"zero":false},"axis":{"values":[-30,-20,-10,0,10,20,30],"labelExpr":"datum.value","title":"Log odds ratio ψ","offset":4,"titlePadding":3}},
        "y":{"field":"c","type":"quantitative","scale":{"domain":[-0.0157,0.4869],"nice":false,"zero":false},"axis":{"orient":"left","title":"Conditional likelihood L(ψ, ; y₁|y₊)","titleColor":"#E8231F","labels":false,"ticks":false,"domain":false,"titlePadding":55}}
       }},
      {"data":{"name":"dL"},"transform":[{"fold":["M03","M28","M20","M06","M10"],"as":["key","v"]}],
       "mark":{"type":"line","interpolate":"monotone"},
       "encoding":{
        "x":{"field":"psi","type":"quantitative"},
        "y":{"field":"v","type":"quantitative","scale":{"domain":[-0.0157,0.4869],"nice":false,"zero":false},"axis":{"orient":"left","values":[0,0.1,0.2,0.3,0.4],"format":".1f","title":"Marginal likelihood L(ψ, λ*; y₊)","domain":false,"titlePadding":2}},
        "color":{"field":"key","type":"nominal","scale":{"domain":["M10","M06","M20","M03","M28"],"range":["#2E4E9E","#C1549F","#45AE49","#7F8B99","#000000"]},"legend":null},
        "strokeWidth":{"condition":{"test":"datum.key === 'M10'","value":5},"value":2.2}
       }},
      {"data":{"name":"dLab"},"transform":[{"filter":"datum.psi > 0 && datum.key !== 'M10'"}],
       "mark":{"type":"text","align":"right","baseline":"middle","fontSize":16,"dx":-7,"dy":-9},
       "encoding":{
        "x":{"field":"psi","type":"quantitative"},
        "y":{"field":"v","type":"quantitative","scale":{"domain":[-0.0157,0.4869],"nice":false,"zero":false},"axis":null},
        "text":{"field":"label"},
        "color":{"field":"key","type":"nominal","legend":null}
       }},
      {"data":{"name":"dLab"},"transform":[{"filter":"datum.key === 'M10'"}],
       "mark":{"type":"text","align":"right","baseline":"middle","fontSize":15,"font":"DejaVu Sans","letterSpacing":-0.5,"dx":-7,"dy":-11},
       "encoding":{
        "x":{"field":"psi","type":"quantitative"},
        "y":{"field":"v","type":"quantitative","scale":{"domain":[-0.0157,0.4869],"nice":false,"zero":false},"axis":null},
        "text":{"field":"label"},
        "color":{"field":"key","type":"nominal","legend":null}
       }},
      {"data":{"name":"dLab"},"transform":[{"filter":"datum.psi < 0"}],
       "mark":{"type":"text","align":"left","baseline":"middle","fontSize":16,"dx":14,"dy":11},
       "encoding":{
        "x":{"field":"psi","type":"quantitative"},
        "y":{"field":"v","type":"quantitative","scale":{"domain":[-0.0157,0.4869],"nice":false,"zero":false},"axis":null},
        "text":{"field":"label"},
        "color":{"field":"key","type":"nominal","legend":null}
       }}
     ],
     "resolve":{"scale":{"y":"independent"}}
    }
]
}
